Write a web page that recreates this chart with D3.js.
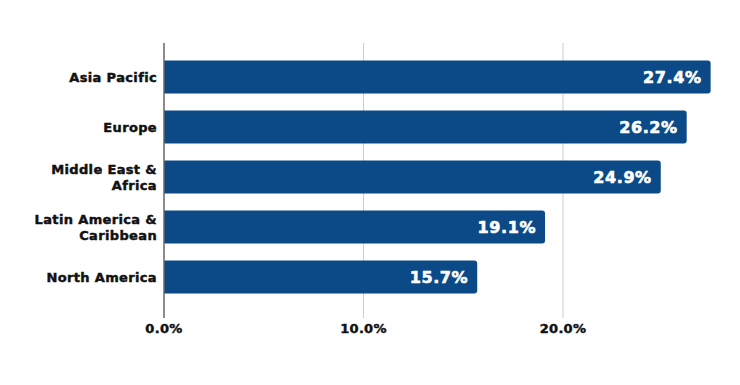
<!DOCTYPE html>
<html>
<head>
<meta charset="utf-8">
<script src="https://cdn.jsdelivr.net/npm/d3@7"></script>
<style>
  html, body { margin: 0; padding: 0; background: #fff; }
  svg { display: block; }
  text { font-family: "DejaVu Sans", sans-serif; font-weight: bold; }
</style>
</head>
<body>
<div id="chart"></div>
<script>
const categories = [["Asia Pacific"], ["Europe"], ["Middle East &", "Africa"], ["Latin America &", "Caribbean"], ["North America"]];
const values = [27.4, 26.2, 24.9, 19.1, 15.7];
const tickValues = [0, 10, 20];

const width = 740, height = 385;
const svg = d3.select("#chart").append("svg").attr("width", width).attr("height", height);

const x = d3.scaleLinear().domain([0, 10]).range([164, 363.5]);
const keys = categories.map(c => c.join(" "));
const y = d3.scaleBand().domain(keys).range([52, 302]).paddingInner(0.34).paddingOuter(0.17);

// gridlines
svg.append("g").selectAll("line").data(tickValues.filter(d => d > 0)).join("line")
  .attr("x1", d => x(d)).attr("x2", d => x(d))
  .attr("y1", 43).attr("y2", 318)
  .attr("stroke", "#cccccc").attr("stroke-width", 1);

// bars with rounded right corners
const r = 3;
svg.append("g").selectAll("path").data(values).join("path")
  .attr("d", (d, i) => {
    const x0 = x(0), x1 = x(d), y0 = y(keys[i]), h = y.bandwidth();
    return `M${x0},${y0}H${x1 - r}Q${x1},${y0} ${x1},${y0 + r}V${y0 + h - r}Q${x1},${y0 + h} ${x1 - r},${y0 + h}H${x0}Z`;
  })
  .attr("fill", "#0b4a87");

// axis line
svg.append("line").attr("x1", x(0)).attr("x2", x(0)).attr("y1", 43).attr("y2", 318)
  .attr("stroke", "#666666").attr("stroke-width", 1.5);

// value labels
svg.append("g").selectAll("text").data(values).join("text")
  .attr("x", d => x(d) - 9)
  .attr("y", (d, i) => y(keys[i]) + y.bandwidth() / 2)
  .attr("dy", "0.36em")
  .attr("text-anchor", "end")
  .attr("fill", "#ffffff")
  .attr("stroke", "#ffffff").attr("stroke-width", 0.6)
  .attr("letter-spacing", 0.6)
  .attr("font-size", 16)
  .text(d => d.toFixed(1) + "%");

// category labels
const cl = svg.append("g").selectAll("text").data(categories).join("text")
  .attr("text-anchor", "end")
  .attr("font-size", 13)
  .attr("letter-spacing", 0.35)
  .attr("fill", "#111111")
  .attr("stroke", "#111111").attr("stroke-width", 0.45)
  .attr("transform", (d, i) => `translate(157,${y(keys[i]) + y.bandwidth() / 2})`);
cl.each(function(d) {
  const t = d3.select(this);
  const n = d.length, lh = 16;
  d.forEach((line, j) => {
    t.append("tspan").attr("x", 0).attr("y", (j - (n - 1) / 2) * lh).attr("dy", "0.36em").text(line);
  });
});

// x tick labels
svg.append("g").selectAll("text").data(tickValues).join("text")
  .attr("x", d => x(d))
  .attr("y", 328)
  .attr("dy", "0.36em")
  .attr("text-anchor", "middle")
  .attr("font-size", 13)
  .attr("letter-spacing", 0.3)
  .attr("fill", "#111111")
  .attr("stroke", "#111111").attr("stroke-width", 0.45)
  .text(d => d.toFixed(1) + "%");
</script>
</body>
</html>
